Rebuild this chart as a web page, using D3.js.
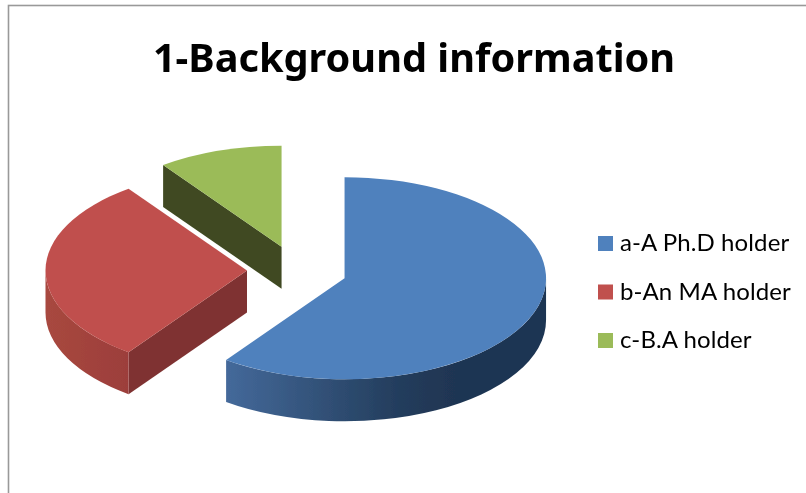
<!DOCTYPE html>
<html>
<head>
<meta charset="utf-8">
<script src="https://cdn.jsdelivr.net/npm/d3@7"></script>
<style>
    html, body { margin: 0; padding: 0; background: #fff; overflow: hidden; }
    svg { display: block; }
    text { font-family: Lato, "Open Sans", sans-serif; fill: #000; font-variant-ligatures: none; }
    .title { font-family: "Noto Sans", Lato, sans-serif; }
</style>
</head>
<body>
<div class="canvas"></div>
<script>
const categories = ['a-A Ph.D holder', 'b-An MA holder', 'c-B.A holder'];
const values = [60, 30, 10];
const titleText = '1-Background information';
const colors = ['#4f81bd', '#c0504d', '#9bbb59'];
const cutColors = ['#1f3552', '#7f3331', '#3f4a20'];

const width = 806;
const height = 493;

const svg = d3.select('.canvas')
    .append('svg')
        .attr('width', width)
        .attr('height', height);

const defs = svg.append('defs');

// the reference is a slightly soft screenshot
defs.append('filter')
    .attr('id', 'soft')
    .attr('x', '-5%').attr('y', '-5%').attr('width', '110%').attr('height', '110%')
    .append('feGaussianBlur')
        .attr('stdDeviation', 0.45);

// chart frame, runs off the right and bottom of the picture
svg.append('rect')
    .attr('x', 8.5)
    .attr('y', 5.5)
    .attr('width', 1000)
    .attr('height', 1000)
    .attr('fill', '#fff')
    .attr('stroke', '#999')
    .attr('stroke-width', 1.6);

svg.append('text')
    .attr('class', 'title')
    .attr('x', 414)
    .attr('y', 72)
    .attr('text-anchor', 'middle')
    .attr('font-size', 39.7)
    .attr('font-weight', 700)
    .attr('filter', 'url(#soft)')
    .text(titleText);

/* ------------------------------------------------- */
// 3d pie
const cx = 297, cy = 270.5;
const rx = 201.5, ry = 101;
const depth = 42;
const explode = 50;

// gradients run in each slice's own coordinates
const blueWall = defs.append('linearGradient')
    .attr('id', 'wall0')
    .attr('gradientUnits', 'userSpaceOnUse')
    .attr('x1', -118).attr('x2', 201).attr('y1', 0).attr('y2', 0);
blueWall.append('stop').attr('offset', 0).attr('stop-color', '#44699a');
blueWall.append('stop').attr('offset', 0.37).attr('stop-color', '#2d4b6f');
blueWall.append('stop').attr('offset', 0.55).attr('stop-color', '#233c5c');
blueWall.append('stop').attr('offset', 0.72).attr('stop-color', '#1f3552');
blueWall.append('stop').attr('offset', 1).attr('stop-color', '#1f3552');

const redWall = defs.append('linearGradient')
    .attr('id', 'wall1')
    .attr('gradientUnits', 'userSpaceOnUse')
    .attr('x1', -201).attr('x2', -118).attr('y1', 0).attr('y2', 0);
redWall.append('stop').attr('offset', 0).attr('stop-color', '#a8483f');
redWall.append('stop').attr('offset', 1).attr('stop-color', '#9c3e3b');

const pie = d3.pie().sort(null).value(d => d);
const slices = pie(values);

const arc = d3.arc().innerRadius(0).outerRadius(rx);

// angle 0 is straight up, clockwise, same as d3.pie
const point = a => [rx * Math.sin(a), -ry * Math.cos(a)];

const offset = d => {
    const mid = (d.startAngle + d.endAngle) / 2;
    return [cx + explode * Math.sin(mid), cy - explode * Math.cos(mid) * ry / rx];
};

// visible part of the outer wall, front half of the ellipse only
const wallPath = d => {
    const a0 = Math.max(d.startAngle, Math.PI / 2);
    const a1 = Math.min(d.endAngle, 3 * Math.PI / 2);
    if (a1 <= a0) return null;
    const [x0, y0] = point(a0);
    const [x1, y1] = point(a1);
    return `M${x0},${y0} A${rx},${ry} 0 0 1 ${x1},${y1}` +
        ` L${x1},${y1 + depth} A${rx},${ry} 0 0 0 ${x0},${y0 + depth} Z`;
};

// the cut along startAngle faces the viewer, the other one faces away
const cutPath = d => {
    const [x, y] = point(d.startAngle);
    return `M0,0 L${x},${y} L${x},${y + depth} L0,${depth} Z`;
};

const pieGroup = svg.append('g')
    .attr('filter', 'url(#soft)');

const groups = pieGroup.selectAll('g.slice')
    .data(slices)
    .enter()
    .append('g')
        .attr('class', 'slice')
        .attr('transform', d => `translate(${offset(d)})`);

// back to front
groups.sort((a, b) => b.index - a.index);

groups.filter(d => d.index > 0)
    .append('path')
        .attr('d', cutPath)
        .attr('fill', d => cutColors[d.index]);

groups.filter(d => wallPath(d))
    .append('path')
        .attr('d', wallPath)
        .attr('fill', d => `url(#wall${d.index})`);

groups.append('path')
    .attr('d', arc)
    .attr('transform', `scale(1,${ry / rx})`)
    .attr('fill', d => colors[d.index]);

/* ------------------------------------------------- */
// legend
const legendY = d3.scalePoint()
    .domain(categories)
    .range([243.5, 340.5]);

const legend = svg.selectAll('g.legend')
    .data(categories)
    .enter()
    .append('g')
        .attr('class', 'legend')
        .attr('transform', d => `translate(598,${legendY(d)})`);

legend.append('rect')
    .attr('x', 0)
    .attr('y', -7.5)
    .attr('width', 15)
    .attr('height', 15)
    .attr('fill', (d, i) => colors[i]);

legend.append('text')
    .attr('x', 22)
    .attr('y', 7.5)
    .attr('font-size', 24)
    .attr('letter-spacing', 0.1)
    .attr('filter', 'url(#soft)')
    .text(d => d);
</script>
</body>
</html>
